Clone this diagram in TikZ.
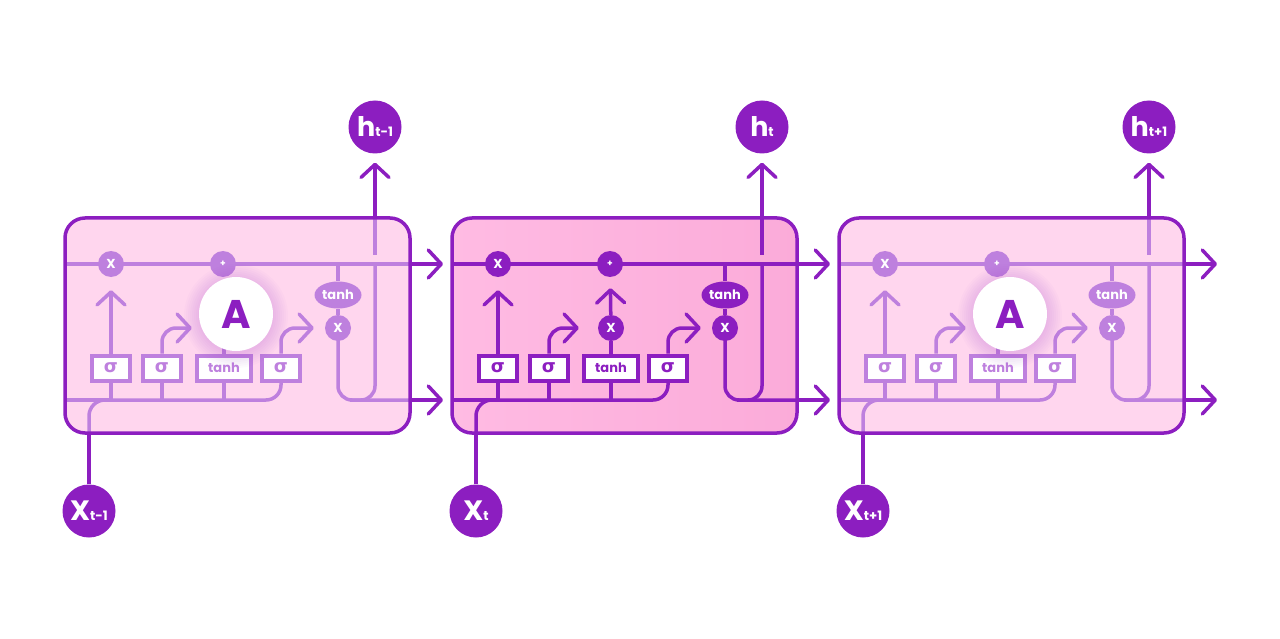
\documentclass[tikz,border=0pt]{standalone}
\usepackage{fontspec}
\newfontfamily\pop{Poppins}
\newfontfamily\grk{DejaVu Sans}
\usetikzlibrary{arrows.meta,shapes.geometric,calc}
\pgfdeclarelayer{bg}
\pgfdeclarelayer{nodes}
\pgfdeclarelayer{top}
\pgfsetlayers{bg,main,nodes,top}
\definecolor{dk}{RGB}{140,30,192}
\definecolor{lt}{RGB}{190,128,222}
\definecolor{pinkL}{RGB}{255,214,238}
\definecolor{pinkMa}{RGB}{255,187,227}
\definecolor{pinkMb}{RGB}{251,171,217}
\tikzset{
  ln/.style={line width=3.5pt, line join=round},
  arr/.style={-{Straight Barb[length=13pt,width=28pt,round]}},
  gate/.style={draw=#1, fill=white, line width=4pt, minimum height=25pt, inner sep=0pt, text=#1},
  sg/.style={gate=#1, minimum width=38pt, font=\grk\bfseries\fontsize{18}{18}\selectfont},
  tg/.style={gate=#1, minimum width=54pt, font=\pop\bfseries\fontsize{13}{13}\selectfont},
  dot/.style={circle, fill=#1, minimum size=26pt, inner sep=0pt, text=white, font=\pop\bfseries\fontsize{13}{13}\selectfont},
  thel/.style={ellipse, fill=#1, minimum width=47pt, minimum height=27pt, inner sep=0pt, text=white, font=\pop\bfseries\fontsize{13}{13}\selectfont},
  big/.style={circle, fill=dk, minimum size=53pt, inner sep=0pt, text=white, font=\pop\bfseries},
  cellbox/.style={rounded corners=20pt},
}
% #1 prefix, #2 x offset, #3 inner colour, #4 box fill, #5 h subscript, #6 x subscript, #7 label of hidden multiply
\newcommand\lstmcell[7]{%
  \begin{pgfonlayer}{bg}
    \path[#4, cellbox] (#2+65,218) rectangle (#2+410,433);
  \end{pgfonlayer}
  \coordinate (#1ti) at (#2+65,264);
  \coordinate (#1tb) at (#2+410,264);
  \coordinate (#1to) at (#2+443,264);
  \coordinate (#1bi) at (#2+65,400);
  \coordinate (#1bb) at (#2+410,400);
  \coordinate (#1bo) at (#2+443,400);
  \coordinate (#1hx) at (#2+375,264);
  \coordinate (#1hc) at (#2+375,255);
  \coordinate (#1hb) at (#2+375,218);
  \coordinate (#1hm) at (#2+350,400);
  \coordinate (#1xb) at (#2+89,433);
  \begin{pgfonlayer}{nodes}
    \node[sg=#3] (#1g1) at (#2+111,368) {σ};
    \node[sg=#3] (#1g2) at (#2+162,368) {σ};
    \node[tg=#3] (#1g3) at (#2+224,368) {tanh};
    \node[sg=#3] (#1g4) at (#2+281,368) {σ};
    \node[dot=#3] (#1fx) at (#2+111,264) {X};
    \node[dot=#3, font=\pop\bfseries\fontsize{9}{9}\selectfont] (#1pl) at (#2+223,264) {+};
    \node[dot=#3] (#1im) at (#2+224,328) {#7};
    \node[thel=#3] (#1th) at (#2+338,295) {tanh};
    \node[dot=#3] (#1oc) at (#2+338,328) {X};
    \node[big] (#1h) at (#2+375,127) {{\fontsize{27}{27}\selectfont h}{\fontsize{13}{13}\selectfont #5}};
    \node[big] (#1x) at (#2+89,511) {{\fontsize{28}{28}\selectfont X}{\fontsize{13}{13}\selectfont #6}};
  \end{pgfonlayer}
  % inner connectors
  \draw[ln, #3] (#1ti) -- (#1tb);
  \draw[ln, #3] (#1bi) -- (#1g1 |- #1bi);
  \draw[ln, #3, rounded corners=15pt] (#1g1 |- #1bi) -| (#1g4);
  \draw[ln, #3] (#1g1) -- (#1g1 |- #1bi);
  \draw[ln, #3] (#1g2) -- (#1g2 |- #1bi);
  \draw[ln, #3] (#1g3) -- (#1g3 |- #1bi);
  \draw[ln, #3, rounded corners=16pt] (#1xb) |- (#1g1 |- #1bi);
  \draw[ln, #3, arr, shorten >=13pt] (#1g1) -- (#1fx);
  \draw[ln, #3, arr, rounded corners=14pt, shorten >=19pt] (#1g2.north) |- (#1im);
  \draw[ln, #3] (#1g3) -- (#1im);
  \draw[ln, #3, arr, shorten >=11pt] (#1im) -- (#1pl);
  \draw[ln, #3, arr, rounded corners=14pt, shorten >=11pt] (#1g4.north) |- (#1oc);
  \draw[ln, #3] (#1th |- #1ti) -- (#1th);
  \draw[ln, #3] (#1th) -- (#1oc);
  \draw[ln, #3, rounded corners=14pt] (#1oc.center) |- (#1bb);
  \draw[ln, #3, rounded corners=14pt] (#1hm) -| (#1hx);
  \draw[ln, #3] (#1hc) -- (#1hb);
  \begin{pgfonlayer}{top}
    \draw[ln, dk, cellbox] (#2+65,218) rectangle (#2+410,433);
    \draw[ln, dk, arr] (#1tb) -- (#1to);
    \draw[ln, dk, arr] (#1bb) -- (#1bo);
    \draw[ln, dk, arr, shorten >=9pt] (#1hb) -- (#1h);
    \draw[ln, dk] (#1x) -- (#1xb);
  \end{pgfonlayer}
}
\newcommand\acircle[2]{%
  \begin{pgfonlayer}{top}
    \foreach \r in {38,40,...,52} {\fill[dk, opacity=0.02] (#2+236,316) circle (\r pt);}
    \node[circle, fill=white, minimum size=74pt, inner sep=0pt, text=dk,
          font=\pop\bfseries\fontsize{40}{40}\selectfont] (#1A) at (#2+236,314) {A};
  \end{pgfonlayer}
}
\begin{document}
\begin{tikzpicture}[x=1pt, y=-1pt]
  \begin{pgfonlayer}{bg}
    \fill[white] (0,0) rectangle (1280,639);
  \end{pgfonlayer}
  \useasboundingbox (0,0) rectangle (1280,639);
  \lstmcell{L}{0}{lt}{fill=pinkL}{t-1}{t-1}{}
  \lstmcell{M}{387}{dk}{left color=pinkMa, right color=pinkMb}{t}{t}{X}
  \lstmcell{R}{774}{lt}{fill=pinkL}{t+1}{t+1}{}
  \acircle{L}{0}
  \acircle{R}{774}
\end{tikzpicture}
\end{document}
